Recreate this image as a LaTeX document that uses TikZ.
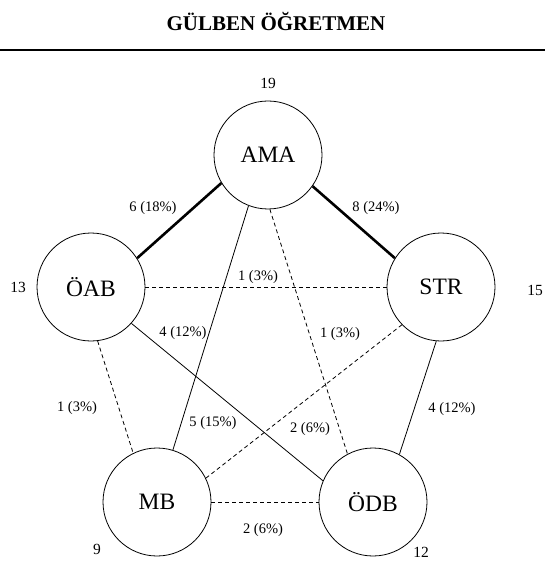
\documentclass[tikz,border=0pt]{standalone}
\usepackage{fontspec}
\setmainfont{Liberation Serif}
\usetikzlibrary{positioning}

\begin{document}
\begin{tikzpicture}[x=1pt,y=-1pt,
	circ/.style={draw, circle, minimum size=108pt, inner sep=0pt, line width=0.8pt, font=\fontsize{23.5}{23.5}\selectfont},
	num/.style={font=\fontsize{15.5}{15.5}\selectfont, inner sep=1pt},
	pct/.style={font=\fontsize{14.5}{14.5}\selectfont},
	strong/.style={line width=2.6pt},
	weak/.style={line width=0.8pt, dash pattern=on 4pt off 3pt},
	plain/.style={line width=0.8pt}]
			\useasboundingbox (0,0) rectangle (545,561);
			\node[font=\fontsize{21}{21}\selectfont\bfseries] (title) at (276,21) {GÜLBEN ÖĞRETMEN};
			\draw[line width=2.5pt] (0,50) -- (545,50);
			
			\node[circ] (ama) at (268,155) {AMA};
			\node[circ] (oab) at (91,287) {ÖAB};
			\node[circ] (str) at (441,287) {STR};
			\node[circ] (mb) at (157,502) {MB};
			\node[circ] (odb) at (373,502) {ÖDB};
			
			\node[num] (n19) at (268,83) {19};
			\node[num] (n13) at (18,287) {13};
			\node[num] (n15) at (535,290) {15};
			\node[num] (n9) at (97,549) {9};
			\node[num] (n12) at (421,552) {12};
			
			\draw[strong] (ama.211) -- (oab.32);
			\draw[strong] (ama.-35) -- (str.148);
			\draw[weak] (oab.east) -- (str.west);
			\draw[plain] (ama.-111) -- (mb.73);
			\draw[weak] (ama.-88) -- (odb.118);
			\draw[plain] (oab.-42) -- (odb.157);
			\draw[weak] (oab.-83) -- (mb.116);
			\draw[weak] (mb.26) -- (str.224);
			\draw[plain] (str.-95) -- (odb.61);
			\draw[weak] (mb.east) -- (odb.west);
			
			\node[pct] (l1) at (153,208) {6 (18\%)};
			\node[pct] (l2) at (376,208) {8 (24\%)};
			\node[pct] (l3) at (258,277) {1 (3\%)};
			\node[pct] (l4) at (183,333) {4 (12\%)};
			\node[pct] (l5) at (340,334) {1 (3\%)};
			\node[pct] (l6) at (77,408) {1 (3\%)};
			\node[pct] (l7) at (213,423) {5 (15\%)};
			\node[pct] (l8) at (310,429) {2 (6\%)};
			\node[pct] (l9) at (452,409) {4 (12\%)};
			\node[pct] (l10) at (263,530) {2 (6\%)};
			
		\end{tikzpicture}
\end{document}
